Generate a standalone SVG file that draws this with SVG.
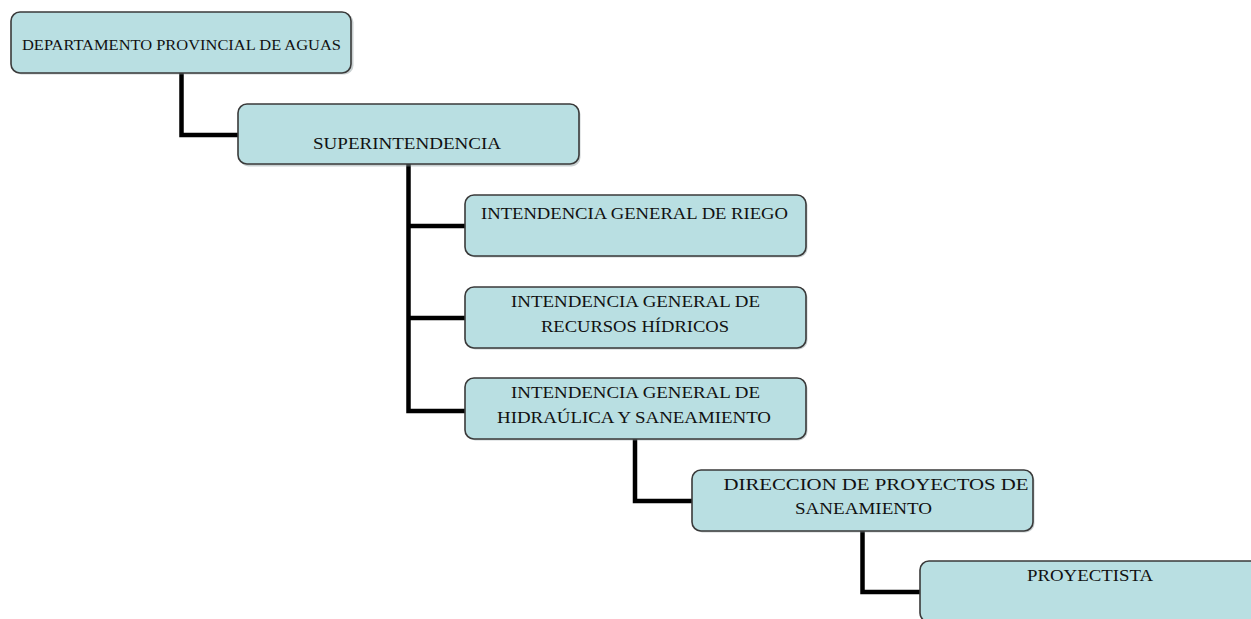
<svg xmlns="http://www.w3.org/2000/svg" width="1251" height="619" viewBox="0 0 1251 619">
<defs>
<style>
.box{fill:#b9dfe2;stroke:#3a3a3a;stroke-width:1.6}
.sh{fill:#8a9a9c;opacity:0.45}
.t{font-family:"Liberation Serif","Times New Roman",serif;font-size:16px;fill:#111;text-anchor:middle}
.t1{font-size:14px}
.c{fill:none;stroke:#000;stroke-width:4.5;stroke-linejoin:miter}
</style>
</defs>
<rect width="1251" height="619" fill="#fff"/>
<g id="connectors">
<path class="c" d="M181.5 73 V135 H238"/>
<path class="c" d="M408.5 164 V411 H465 M408.5 226 H465 M408.5 318 H465"/>
<path class="c" d="M635 439 V501 H692"/>
<path class="c" d="M862.5 531 V592 H920"/>
</g>
<g id="n1">
<rect class="sh" x="12.5" y="13.5" width="341" height="61" rx="9"/>
<rect class="box" x="11" y="12" width="340" height="61" rx="9"/>
<text class="t t1" x="181.5" y="50" textLength="319" lengthAdjust="spacingAndGlyphs">DEPARTAMENTO PROVINCIAL DE AGUAS</text>
</g>
<g id="n2">
<rect class="sh" x="239.5" y="105.5" width="341" height="61" rx="9"/>
<rect class="box" x="238" y="104" width="341" height="60" rx="9"/>
<text class="t" x="407" y="149" textLength="188" lengthAdjust="spacingAndGlyphs">SUPERINTENDENCIA</text>
</g>
<g id="n3">
<rect class="sh" x="466.5" y="196.5" width="341" height="61" rx="9"/>
<rect class="box" x="465" y="195" width="341" height="61" rx="9"/>
<text class="t" x="634.5" y="219" textLength="307" lengthAdjust="spacingAndGlyphs">INTENDENCIA GENERAL DE RIEGO</text>
</g>
<g id="n4">
<rect class="sh" x="466.5" y="288.5" width="341" height="61" rx="9"/>
<rect class="box" x="465" y="287" width="341" height="61" rx="9"/>
<text class="t" x="635.5" y="307" textLength="249" lengthAdjust="spacingAndGlyphs">INTENDENCIA GENERAL DE</text>
<text class="t" x="635" y="332" textLength="188" lengthAdjust="spacingAndGlyphs">RECURSOS HÍDRICOS</text>
</g>
<g id="n5">
<rect class="sh" x="466.5" y="379.5" width="341" height="61" rx="9"/>
<rect class="box" x="465" y="378" width="341" height="61" rx="9"/>
<text class="t" x="635.5" y="398" textLength="249" lengthAdjust="spacingAndGlyphs">INTENDENCIA GENERAL DE</text>
<text class="t" x="634" y="423" textLength="274" lengthAdjust="spacingAndGlyphs">HIDRAÚLICA Y SANEAMIENTO</text>
</g>
<g id="n6">
<rect class="sh" x="693.5" y="471.5" width="341" height="61" rx="9"/>
<rect class="box" x="692" y="470" width="341" height="61" rx="9"/>
<text class="t" x="876" y="490" textLength="305" lengthAdjust="spacingAndGlyphs">DIRECCION DE PROYECTOS DE</text>
<text class="t" x="863.5" y="514" textLength="137" lengthAdjust="spacingAndGlyphs">SANEAMIENTO</text>
</g>
<g id="n7">
<rect class="sh" x="921.5" y="562.5" width="341" height="61" rx="9"/>
<rect class="box" x="920" y="561" width="341" height="61" rx="9"/>
<text class="t" x="1090" y="581" textLength="126" lengthAdjust="spacingAndGlyphs">PROYECTISTA</text>
</g>
</svg>
